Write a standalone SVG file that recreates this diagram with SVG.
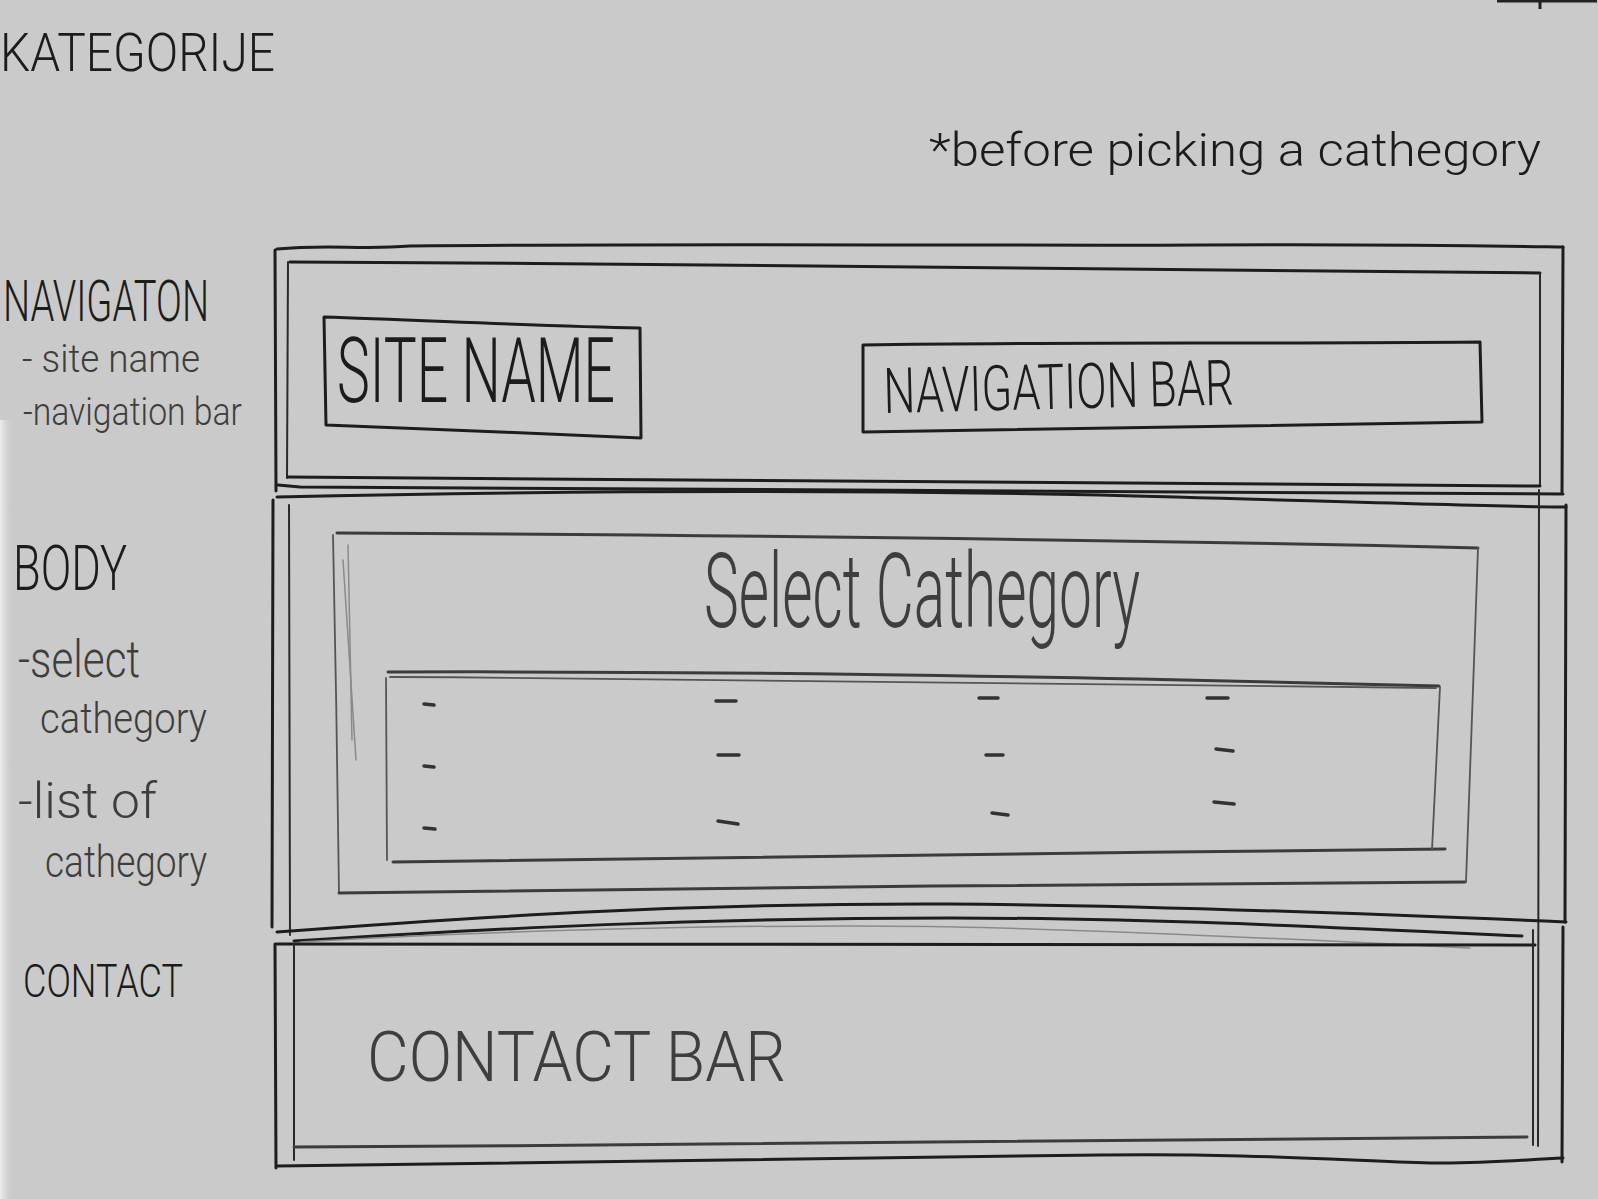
<svg xmlns="http://www.w3.org/2000/svg" width="1598" height="1199" viewBox="0 0 1598 1199">
  <defs>
    <style>
      .pen { fill: none; stroke: #1d1d1d; stroke-width: 3; stroke-linecap: round; stroke-linejoin: round; }
      .pen-thin { fill: none; stroke: #2a2a2a; stroke-width: 2; stroke-linecap: round; }
      .pencil { fill: none; stroke: #3c3c3c; stroke-width: 3; stroke-linecap: round; stroke-linejoin: round; }
      .pencil-thin { fill: none; stroke: #555; stroke-width: 1.8; stroke-linecap: round; }
      .faint { fill: none; stroke: #8a8a8a; stroke-width: 1.5; stroke-linecap: round; }
      .dash { fill: none; stroke: #333; stroke-width: 3.5; stroke-linecap: round; }
      .ink { font-family: "Roboto", "Liberation Sans", sans-serif; font-weight: 300; fill: #1c1c1c; }
      .lead { font-family: "Roboto", "Liberation Sans", sans-serif; font-weight: 300; fill: #3e3e3e; }
    </style>
    <linearGradient id="edge" x1="0" y1="0" x2="1" y2="0">
      <stop offset="0" stop-color="#ececec"/>
      <stop offset="1" stop-color="#cacaca" stop-opacity="0"/>
    </linearGradient>
  </defs>

  <!-- paper -->
  <rect width="1598" height="1199" fill="#cacaca"/>
  <rect x="0" y="420" width="14" height="779" fill="url(#edge)"/>
  <path d="M1497,1 L1597,1" stroke="#222" stroke-width="3"/>
  <path d="M1540,0 L1540,9" stroke="#222" stroke-width="3"/>

  <!-- page title and note -->
  <text class="ink" x="0" y="71" font-size="54" textLength="275" lengthAdjust="spacingAndGlyphs">KATEGORIJE</text>
  <text class="ink" x="929" y="166" font-size="47" textLength="612" lengthAdjust="spacingAndGlyphs">*before picking a cathegory</text>

  <!-- section legend on the left -->
  <g id="legend-navigation">
    <text class="ink" x="3" y="321" font-size="57" textLength="206" lengthAdjust="spacingAndGlyphs">NAVIGATON</text>
    <text class="lead" x="22" y="372" font-size="38" textLength="178" lengthAdjust="spacingAndGlyphs">- site name</text>
    <text class="lead" x="23" y="425" font-size="38" textLength="219" lengthAdjust="spacingAndGlyphs">-navigation bar</text>
  </g>
  <g id="legend-body">
    <text class="ink" x="13" y="590" font-size="63" textLength="114" lengthAdjust="spacingAndGlyphs">BODY</text>
    <text class="lead" x="18" y="677" font-size="52" textLength="122" lengthAdjust="spacingAndGlyphs">-select</text>
    <text class="lead" x="40" y="733" font-size="42" textLength="167" lengthAdjust="spacingAndGlyphs">cathegory</text>
    <text class="lead" x="18" y="818" font-size="50" textLength="139" lengthAdjust="spacingAndGlyphs">-list of</text>
    <text class="lead" x="45" y="877" font-size="45" textLength="162" lengthAdjust="spacingAndGlyphs">cathegory</text>
  </g>
  <g id="legend-contact">
    <text class="ink" x="23" y="997" font-size="47" textLength="160" lengthAdjust="spacingAndGlyphs">CONTACT</text>
  </g>

  <!-- navigation section -->
  <g id="nav-section">
    <path class="pen" d="M277,249 C330,244 360,250 410,246 C700,243 1000,246 1200,245 C1400,244 1500,246 1563,247"/>
    <path class="pen" d="M275,250 L276,491"/>
    <path class="pen" d="M1563,247 L1562,492"/>
    <path class="pen" d="M290,262 C700,264 1100,268 1540,273" stroke-width="4"/>
    <path class="pen-thin" d="M288,262 L287,478"/>
    <path class="pen-thin" d="M1540,273 L1540,486"/>
    <path class="pen" d="M288,477 C700,480 1100,484 1540,486"/>
    <path class="pen" d="M278,485 L300,487 C700,487 1100,490 1563,494"/>
  </g>

  <g id="site-name">
    <path class="pen" d="M324,317 C420,320 540,326 640,328 L641,438 C540,434 420,428 326,425 Z"/>
    <text class="ink" x="337" y="402" font-size="91" textLength="278" lengthAdjust="spacingAndGlyphs">SITE NAME</text>
  </g>

  <g id="navigation-bar">
    <path class="pen" d="M863,345 C1050,342 1250,344 1480,342 L1482,422 C1250,425 1050,428 863,432 Z"/>
    <text class="ink" x="884" y="413" font-size="63" textLength="350" lengthAdjust="spacingAndGlyphs" transform="rotate(-1.4 884 413)">NAVIGATION BAR</text>
  </g>

  <!-- body section -->
  <g id="body-section">
    <path class="pen" d="M277,497 C500,492 800,489 1100,495 C1300,500 1450,506 1566,507"/>
    <path class="pen" d="M273,500 L272,927"/>
    <path class="pen-thin" d="M289,505 L290,935"/>
    <path class="pen" d="M1566,505 L1565,922"/>
    <path class="pen-thin" d="M1539,490 L1538,1146"/>
    <path class="pen" d="M277,932 C500,915 700,903 950,904 C1150,905 1400,915 1566,922"/>
    <path class="pen" d="M294,941 C500,928 700,918 950,918 C1150,918 1350,928 1522,936"/>
    <path class="faint" d="M300,942 C500,930 800,922 1000,928 C1200,934 1350,942 1470,948"/>
  </g>

  <g id="select-category">
    <path class="pencil" d="M337,533 C700,535 1100,539 1478,548"/>
    <path class="pencil-thin" d="M333,535 C336,650 337,780 339,893"/>
    <path class="pencil" d="M339,893 C700,888 1100,884 1465,882"/>
    <path class="pencil-thin" d="M1478,548 C1474,660 1470,780 1466,882"/>
    <path class="faint" d="M343,560 L356,760"/>
    <path class="faint" d="M348,545 L352,740"/>
    <text class="lead" x="704" y="627" font-size="103" textLength="436" lengthAdjust="spacingAndGlyphs">Select Cathegory</text>
  </g>

  <g id="category-list">
    <path class="pencil" d="M388,672 C700,671 1000,675 1439,686"/>
    <path class="pencil-thin" d="M390,677 C700,678 1000,681 1436,688"/>
    <path class="pencil-thin" d="M386,678 L387,860"/>
    <path class="pencil" d="M393,862 C800,858 1100,852 1445,849"/>
    <path class="pencil-thin" d="M1440,687 L1432,850"/>
    <path class="dash" d="M424,704 L434,705"/>
    <path class="dash" d="M424,766 L434,767"/>
    <path class="dash" d="M424,828 L435,829"/>
    <path class="dash" d="M716,701 L736,701"/>
    <path class="dash" d="M718,755 L739,755"/>
    <path class="dash" d="M718,821 L738,824"/>
    <path class="dash" d="M979,698 L998,698"/>
    <path class="dash" d="M986,755 L1003,755"/>
    <path class="dash" d="M992,813 L1008,815"/>
    <path class="dash" d="M1207,698 L1228,698"/>
    <path class="dash" d="M1216,749 L1233,751"/>
    <path class="dash" d="M1214,802 L1234,804"/>
  </g>

  <!-- contact section -->
  <g id="contact-section">
    <path class="pen" d="M277,944 C700,944 1100,945 1535,945"/>
    <path class="pen" d="M275,944 L276,1168"/>
    <path class="pen-thin" d="M294,944 L294,1160"/>
    <path class="pen" d="M1563,927 L1562,1162"/>
    <path class="pen-thin" d="M1533,930 L1533,1145"/>
    <path class="pencil" d="M294,1147 C700,1145 1100,1140 1527,1137" stroke-width="3.5"/>
    <path class="pen" d="M277,1166 C600,1160 900,1158 1100,1155 C1250,1153 1350,1161 1430,1163 C1480,1164 1520,1160 1563,1158"/>
    <text class="lead" x="367" y="1081" font-size="70" textLength="419" lengthAdjust="spacingAndGlyphs" fill="#4a4a4a">CONTACT BAR</text>
  </g>

  <g id="connectors"/>
</svg>
